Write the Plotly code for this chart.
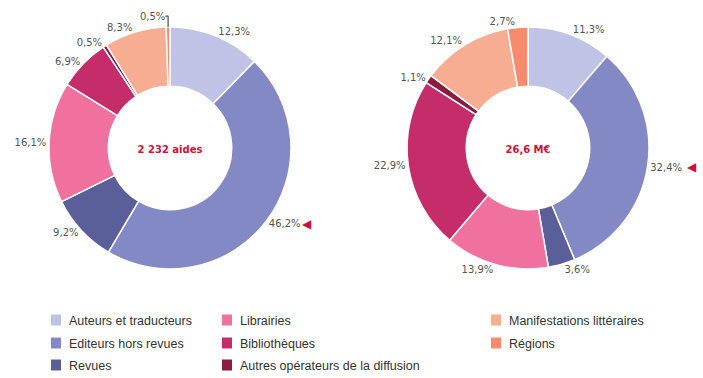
import plotly.graph_objects as go

categories = ["Auteurs et traducteurs", "Editeurs hors revues", "Revues", "Librairies",
              "Bibliothèques", "Autres opérateurs de la diffusion",
              "Manifestations littéraires", "Régions"]
colors = ["#C0C2E6", "#8389C5", "#5B5F99", "#F0709E", "#C42D69", "#8A1C40", "#F7AD91", "#F88A6E"]
aides_pct = [12.3, 46.2, 9.2, 16.1, 6.9, 0.5, 8.3, 0.5]
montant_pct = [11.3, 32.4, 3.6, 13.9, 22.9, 1.1, 12.1, 2.7]
center_titles = ["2 232 aides", "26,6 M€"]

W, H = 703, 378


def fmt(v):
    return f"{v:.1f}".replace(".", ",") + "%"


def px(x):
    return x / W


def py(y):
    return 1 - y / H


fig = go.Figure()
domains = [
    dict(x=[px(170 - 121), px(170 + 121)], y=[py(269), py(27)]),
    dict(x=[px(528 - 121), px(528 + 121)], y=[py(269), py(27)]),
]
for vals, dom, title in zip([aides_pct, montant_pct], domains, center_titles):
    fig.add_trace(go.Pie(
        labels=categories, values=vals, text=[fmt(v) for v in vals],
        textinfo="text", textposition="outside", hole=0.51,
        sort=False, direction="clockwise", rotation=0,
        marker=dict(colors=colors, line=dict(color="white", width=1.5)),
        textfont=dict(family="DejaVu Sans", size=10, color="#555555"),
        domain=dom, showlegend=False, hoverinfo="label+text",
        title=dict(text=f"<b>{title}</b>", position="middle center",
                   font=dict(family="DejaVu Sans", size=10, color="#D0103A")),
    ))

# Red arrow markers next to the biggest slices' labels
for (ax, ay) in [(307, 224), (699, 167)]:
    fig.add_annotation(x=px(ax), y=py(ay), xref="paper", yref="paper", text="◀",
                       showarrow=False, font=dict(size=12, color="#D0103A", family="DejaVu Sans"))

# Manual legend laid out in columns
col_x = [51, 222, 491]
row_y = [320, 343, 365]
layout_pos = [(0, 0), (0, 1), (0, 2), (1, 0), (1, 1), (1, 2), (2, 0), (2, 1)]
shapes = []
for cat, col, (c, r) in zip(categories, colors, layout_pos):
    x0 = col_x[c]
    yc = row_y[r]
    shapes.append(dict(type="rect", xref="paper", yref="paper",
                       x0=px(x0), x1=px(x0 + 10), y0=py(yc + 5.5), y1=py(yc - 5.5),
                       fillcolor=col, line=dict(width=0)))
    fig.add_annotation(x=px(x0 + 16), y=py(yc + 1), xref="paper", yref="paper", text=cat,
                       showarrow=False, xanchor="left", yanchor="middle",
                       font=dict(family="Liberation Sans", size=12.5, color="#333333"))

fig.update_layout(
    width=W, height=H, margin=dict(l=0, r=0, t=0, b=0),
    paper_bgcolor="white", plot_bgcolor="white", shapes=shapes,
)
fig.write_html("out.html", config={"displayModeBar": False},
               post_script="document.body.style.margin='0';")
